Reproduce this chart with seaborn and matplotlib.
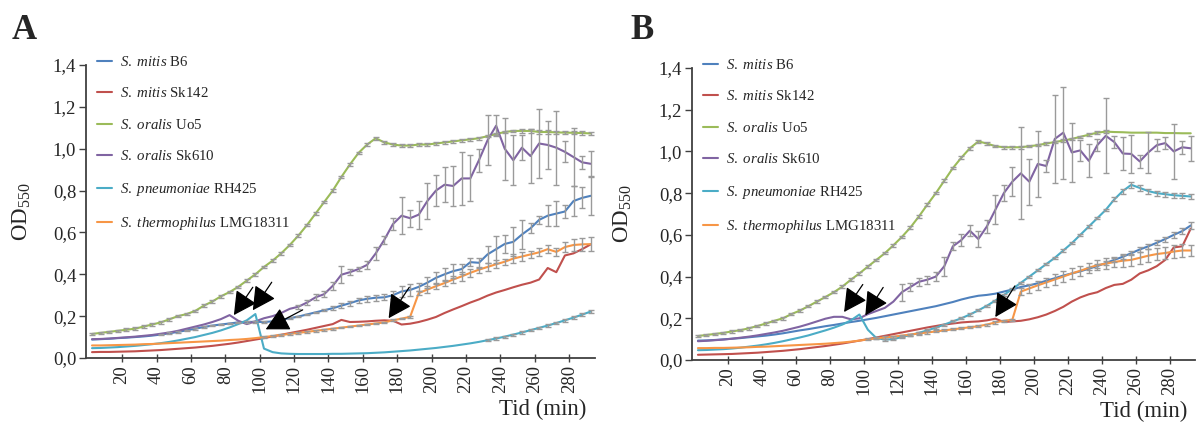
import numpy as np
import pandas as pd
import matplotlib
matplotlib.use("Agg")
import matplotlib.pyplot as plt
import seaborn as sns
from matplotlib.ticker import FuncFormatter

nan = np.nan

TIME = [2.5, 7.5, 12.5, 17.5, 22.5, 27.5, 32.5, 37.5, 42.5, 47.5,
        52.5, 57.5, 62.5, 67.5, 72.5, 77.5, 82.5, 87.5, 92.5, 97.5,
        102.5, 107.5, 112.5, 117.5, 122.5, 127.5, 132.5, 137.5, 142.5, 147.5,
        152.5, 157.5, 162.5, 167.5, 172.5, 177.5, 182.5, 187.5, 192.5, 197.5,
        202.5, 207.5, 212.5, 217.5, 222.5, 227.5, 232.5, 237.5, 242.5, 247.5,
        252.5, 257.5, 262.5, 267.5, 272.5, 277.5, 282.5, 287.5, 292.5]

STRAINS = [r"$\mathit{S.\ mitis}$ B6",
           r"$\mathit{S.\ mitis}$ Sk142",
           r"$\mathit{S.\ oralis}$ Uo5",
           r"$\mathit{S.\ oralis}$ Sk610",
           r"$\mathit{S.\ pneumoniae}$ RH425",
           r"$\mathit{S.\ thermophilus}$ LMG18311"]
COLORS = ["#4F81BD", "#C0504D", "#9BBB59", "#8064A2", "#4BACC6", "#F79646"]

XTICKS = [20, 40, 60, 80, 100, 120, 140, 160, 180, 200, 220, 240, 260, 280]
YTICKS = [0.0, 0.2, 0.4, 0.6, 0.8, 1.0, 1.2, 1.4]

# ---------------- Panel A ----------------
A_B6 = [0.088, 0.090, 0.092, 0.095, 0.097, 0.100, 0.103, 0.107, 0.112, 0.118,
        0.125, 0.132, 0.140, 0.148, 0.155, 0.160, 0.165, 0.170, 0.172, 0.173,
        0.172, 0.175, 0.182, 0.190, 0.198, 0.208, 0.218, 0.228, 0.238, 0.250,
        0.262, 0.275, 0.283, 0.288, 0.290, 0.300, 0.318, 0.325, 0.340, 0.360,
        0.383, 0.400, 0.415, 0.425, 0.458, 0.455, 0.495, 0.520, 0.545, 0.555,
        0.590, 0.620, 0.660, 0.680, 0.690, 0.700, 0.750, 0.765, 0.775]
A_SK142 = [0.028, 0.029, 0.029, 0.030, 0.031, 0.032, 0.034, 0.036, 0.038, 0.041,
           0.044, 0.047, 0.050, 0.054, 0.058, 0.063, 0.068, 0.074, 0.081, 0.088,
           0.095, 0.103, 0.111, 0.119, 0.127, 0.135, 0.144, 0.153, 0.162, 0.182,
           0.172, 0.173, 0.175, 0.178, 0.180, 0.178, 0.160, 0.164, 0.172, 0.183,
           0.196, 0.215, 0.232, 0.248, 0.265, 0.280, 0.298, 0.313, 0.325, 0.338,
           0.350, 0.360, 0.375, 0.430, 0.410, 0.490, 0.500, 0.520, 0.543]
A_UO5 = [0.115, 0.120, 0.125, 0.130, 0.135, 0.140, 0.150, 0.160, 0.170, 0.185,
         0.200, 0.210, 0.225, 0.250, 0.270, 0.295, 0.315, 0.340, 0.370, 0.400,
         0.435, 0.465, 0.500, 0.540, 0.585, 0.635, 0.690, 0.745, 0.800, 0.865,
         0.925, 0.980, 1.020, 1.050, 1.030, 1.020, 1.015, 1.015, 1.020, 1.020,
         1.025, 1.030, 1.035, 1.040, 1.045, 1.050, 1.060, 1.070, 1.080, 1.085,
         1.085, 1.085, 1.080, 1.080, 1.078, 1.077, 1.076, 1.075, 1.073]
A_SK610 = [0.090, 0.091, 0.093, 0.096, 0.099, 0.102, 0.106, 0.110, 0.116, 0.122,
           0.130, 0.140, 0.150, 0.160, 0.172, 0.186, 0.205, 0.178, 0.162, 0.175,
           0.190, 0.200, 0.215, 0.235, 0.245, 0.265, 0.290, 0.305, 0.345, 0.398,
           0.410, 0.425, 0.445, 0.500, 0.565, 0.640, 0.680, 0.668, 0.685, 0.750,
           0.800, 0.828, 0.822, 0.858, 0.858, 0.945, 1.040, 1.110, 1.000, 0.945,
           1.005, 0.965, 1.025, 1.018, 1.005, 0.985, 0.960, 0.935, 0.928]
A_RH425 = [0.047, 0.048, 0.050, 0.052, 0.055, 0.058, 0.062, 0.066, 0.071, 0.077,
           0.084, 0.092, 0.100, 0.110, 0.120, 0.132, 0.146, 0.162, 0.180, 0.210,
           0.045, 0.028, 0.022, 0.020, 0.019, 0.019, 0.019, 0.019, 0.020, 0.020,
           0.021, 0.022, 0.023, 0.025, 0.027, 0.030, 0.033, 0.036, 0.040, 0.044,
           0.048, 0.053, 0.058, 0.064, 0.070, 0.077, 0.085, 0.093, 0.102, 0.112,
           0.122, 0.133, 0.144, 0.155, 0.167, 0.180, 0.193, 0.207, 0.222]
A_LMG = [0.060, 0.060, 0.061, 0.062, 0.063, 0.064, 0.066, 0.067, 0.069, 0.071,
         0.073, 0.075, 0.077, 0.079, 0.081, 0.083, 0.086, 0.088, 0.091, 0.095,
         0.100, 0.105, 0.110, 0.115, 0.120, 0.125, 0.130, 0.135, 0.140, 0.145,
         0.150, 0.155, 0.160, 0.165, 0.170, 0.180, 0.188, 0.197, 0.310, 0.327,
         0.343, 0.358, 0.375, 0.390, 0.407, 0.422, 0.435, 0.448, 0.460, 0.475,
         0.485, 0.495, 0.505, 0.520, 0.507, 0.530, 0.540, 0.543, 0.544]

A_B6_ERR = [nan, nan, nan, nan, nan, nan, nan, nan, 0.004, 0.004,
            0.004, 0.004, 0.004, 0.004, 0.004, 0.004, 0.004, 0.004, 0.004, 0.004,
            0.004, 0.004, 0.004, 0.004, 0.004, 0.004, 0.004, 0.004, 0.010, 0.012,
            0.012, 0.010, 0.015, 0.015, 0.015, 0.020, 0.025, 0.030, 0.020, 0.025,
            0.030, 0.030, 0.035, 0.025, 0.020, 0.025, 0.040, 0.065, 0.045, 0.070,
            0.070, 0.025, 0.020, 0.050, 0.060, 0.030, 0.070, 0.050, 0.090]
A_SK142_ERR = None
A_UO5_ERR = [0.006, 0.006, 0.006, 0.006, 0.006, 0.006, 0.006, 0.006, 0.006, 0.006,
             0.006, 0.006, 0.006, 0.006, 0.006, 0.006, 0.006, 0.006, 0.006, 0.006,
             0.006, 0.006, 0.006, 0.006, 0.006, 0.006, 0.006, 0.006, 0.006, 0.006,
             0.006, 0.006, 0.006, 0.008, 0.006, 0.006, 0.006, 0.006, 0.006, 0.006,
             0.006, 0.006, 0.006, 0.006, 0.006, 0.006, 0.006, 0.006, 0.006, 0.006,
             0.008, 0.008, 0.008, 0.008, 0.008, 0.008, 0.008, 0.008, 0.008]
A_SK610_ERR = [nan, nan, nan, nan, nan, nan, nan, nan, nan, nan,
               nan, nan, nan, nan, nan, nan, nan, nan, nan, nan,
               nan, nan, nan, nan, 0.010, 0.010, 0.015, 0.015, 0.020, 0.040,
               0.015, 0.010, 0.020, 0.030, 0.020, 0.030, 0.087, 0.040, 0.067, 0.087,
               0.075, 0.083, 0.095, 0.127, 0.110, 0.055, 0.119, 0.050, 0.148, 0.119,
               0.060, 0.130, 0.163, 0.115, 0.176, 0.050, 0.139, 0.030, 0.060]
A_RH425_ERR = [nan, nan, nan, nan, nan, nan, nan, nan, nan, nan,
               nan, nan, nan, nan, nan, nan, nan, nan, nan, nan,
               nan, nan, nan, nan, nan, nan, nan, nan, nan, nan,
               nan, nan, nan, nan, nan, nan, nan, nan, nan, nan,
               nan, nan, nan, nan, nan, nan, 0.005, 0.005, 0.005, 0.005,
               0.005, 0.005, 0.005, 0.006, 0.006, 0.006, 0.007, 0.007, 0.008]
A_LMG_ERR = [nan, nan, nan, nan, nan, nan, nan, nan, nan, nan,
             nan, nan, nan, nan, nan, nan, nan, nan, nan, nan,
             0.004, 0.004, 0.004, 0.004, 0.004, 0.004, 0.004, 0.004, 0.004, 0.004,
             0.004, 0.004, 0.004, 0.004, 0.004, 0.004, 0.004, 0.004, 0.010, 0.015,
             0.015, 0.015, 0.015, 0.020, 0.020, 0.015, 0.020, 0.020, 0.015, 0.020,
             0.020, 0.015, 0.020, 0.020, 0.020, 0.025, 0.030, 0.030, 0.035]

# ---------------- Panel B ----------------
B_B6 = [0.093, 0.094, 0.096, 0.099, 0.102, 0.105, 0.109, 0.113, 0.117, 0.122,
        0.128, 0.135, 0.142, 0.148, 0.155, 0.162, 0.168, 0.175, 0.182, 0.188,
        0.195, 0.202, 0.210, 0.218, 0.226, 0.234, 0.242, 0.250, 0.258, 0.268,
        0.278, 0.290, 0.300, 0.308, 0.312, 0.318, 0.328, 0.338, 0.350, 0.358,
        0.368, 0.380, 0.392, 0.405, 0.415, 0.425, 0.438, 0.450, 0.465, 0.480,
        0.495, 0.512, 0.530, 0.545, 0.562, 0.580, 0.600, 0.618, 0.645]
B_SK142 = [0.025, 0.026, 0.027, 0.028, 0.029, 0.031, 0.033, 0.035, 0.038, 0.041,
           0.044, 0.048, 0.052, 0.057, 0.062, 0.067, 0.073, 0.079, 0.086, 0.093,
           0.100, 0.108, 0.116, 0.124, 0.132, 0.140, 0.148, 0.156, 0.163, 0.170,
           0.175, 0.180, 0.183, 0.185, 0.190, 0.198, 0.182, 0.185, 0.188, 0.195,
           0.205, 0.218, 0.235, 0.255, 0.280, 0.300, 0.315, 0.325, 0.345, 0.360,
           0.365, 0.385, 0.415, 0.430, 0.450, 0.480, 0.540, 0.545, 0.630]
B_UO5 = [0.115, 0.120, 0.125, 0.130, 0.137, 0.143, 0.152, 0.163, 0.175, 0.188,
         0.200, 0.220, 0.237, 0.258, 0.280, 0.302, 0.325, 0.352, 0.385, 0.415,
         0.448, 0.480, 0.512, 0.550, 0.590, 0.635, 0.688, 0.745, 0.800, 0.860,
         0.920, 0.970, 1.015, 1.048, 1.038, 1.025, 1.020, 1.020, 1.020, 1.025,
         1.030, 1.038, 1.045, 1.052, 1.060, 1.070, 1.080, 1.090, 1.095, 1.093,
         1.092, 1.090, 1.090, 1.090, 1.090, 1.088, 1.088, 1.087, 1.087]
B_SK610 = [0.090, 0.092, 0.095, 0.098, 0.102, 0.107, 0.112, 0.118, 0.125, 0.132,
           0.140, 0.150, 0.160, 0.172, 0.185, 0.198, 0.207, 0.207, 0.195, 0.200,
           0.220, 0.235, 0.250, 0.280, 0.325, 0.350, 0.375, 0.385, 0.400, 0.450,
           0.545, 0.575, 0.620, 0.580, 0.640, 0.720, 0.800, 0.855, 0.895, 0.855,
           0.940, 0.930, 1.060, 1.090, 0.995, 1.005, 0.955, 1.030, 1.075, 1.045,
           0.990, 0.988, 0.952, 0.995, 1.030, 1.040, 1.000, 1.020, 1.015]
B_RH425 = [0.047, 0.048, 0.050, 0.052, 0.055, 0.059, 0.064, 0.069, 0.075, 0.082,
           0.090, 0.099, 0.108, 0.118, 0.130, 0.142, 0.155, 0.170, 0.190, 0.218,
           0.145, 0.105, 0.098, 0.100, 0.110, 0.120, 0.130, 0.142, 0.155, 0.170,
           0.185, 0.200, 0.218, 0.238, 0.260, 0.285, 0.312, 0.340, 0.370, 0.400,
           0.430, 0.460, 0.490, 0.525, 0.560, 0.600, 0.640, 0.680, 0.720, 0.770,
           0.810, 0.840, 0.825, 0.810, 0.800, 0.795, 0.790, 0.787, 0.784]
B_LMG = [0.057, 0.057, 0.058, 0.058, 0.059, 0.060, 0.061, 0.063, 0.064, 0.066,
         0.068, 0.070, 0.072, 0.074, 0.076, 0.078, 0.081, 0.084, 0.088, 0.093,
         0.099, 0.104, 0.108, 0.112, 0.117, 0.122, 0.127, 0.132, 0.137, 0.142,
         0.147, 0.152, 0.157, 0.162, 0.170, 0.180, 0.188, 0.193, 0.328, 0.343,
         0.358, 0.372, 0.386, 0.400, 0.415, 0.428, 0.442, 0.455, 0.462, 0.470,
         0.476, 0.480, 0.490, 0.500, 0.508, 0.513, 0.520, 0.525, 0.525]

B_B6_ERR = [nan, nan, nan, nan, nan, nan, nan, nan, nan, nan,
            nan, nan, nan, nan, nan, nan, nan, nan, nan, nan,
            nan, nan, nan, nan, nan, nan, nan, nan, nan, nan,
            nan, nan, nan, nan, nan, nan, nan, nan, nan, nan,
            nan, nan, nan, nan, nan, nan, 0.006, 0.008, 0.008, 0.010,
            0.010, 0.010, 0.012, 0.012, 0.012, 0.012, 0.015, 0.015, 0.015]
B_SK142_ERR = None
B_UO5_ERR = [0.006, 0.006, 0.006, 0.006, 0.006, 0.006, 0.006, 0.006, 0.006, 0.006,
             0.006, 0.006, 0.006, 0.006, 0.006, 0.006, 0.006, 0.006, 0.006, 0.006,
             0.006, 0.006, 0.006, 0.006, 0.006, 0.006, 0.006, 0.006, 0.006, 0.006,
             0.006, 0.006, 0.006, 0.006, 0.006, 0.006, 0.006, 0.006, 0.006, 0.006,
             0.006, 0.006, 0.006, 0.006, 0.006, 0.006, 0.006, 0.006, 0.006, nan,
             nan, nan, nan, nan, nan, nan, nan, nan, nan]
B_SK610_ERR = [nan, nan, nan, nan, nan, nan, nan, nan, nan, nan,
               nan, nan, nan, nan, nan, nan, nan, nan, nan, nan,
               nan, nan, nan, nan, 0.040, 0.020, 0.020, 0.020, 0.020, 0.045,
               0.020, 0.030, 0.025, 0.040, 0.030, 0.070, 0.040, 0.070, 0.220, 0.110,
               0.160, 0.030, 0.210, 0.220, 0.140, 0.050, 0.080, 0.030, 0.180, 0.030,
               0.080, 0.090, 0.030, 0.100, 0.030, 0.030, 0.130, 0.030, 0.060]
B_RH425_ERR = [nan, nan, nan, nan, nan, nan, nan, nan, nan, nan,
               nan, nan, nan, nan, nan, nan, nan, nan, nan, nan,
               nan, 0.005, 0.005, 0.005, 0.005, 0.005, 0.005, 0.005, 0.005, 0.005,
               0.005, 0.005, 0.005, 0.005, 0.005, 0.005, 0.005, 0.005, 0.005, 0.005,
               0.005, 0.005, 0.005, 0.005, 0.005, 0.005, 0.005, 0.005, 0.005, 0.010,
               0.012, 0.015, 0.015, 0.012, 0.012, 0.012, 0.012, 0.012, 0.012]
B_LMG_ERR = [nan, nan, nan, nan, nan, nan, nan, nan, nan, nan,
             nan, nan, nan, nan, nan, nan, nan, nan, nan, nan,
             0.005, 0.005, 0.005, 0.005, 0.005, 0.005, 0.005, 0.005, 0.005, 0.005,
             0.005, 0.005, 0.005, 0.005, 0.005, 0.005, 0.005, 0.005, 0.015, 0.020,
             0.020, 0.020, 0.025, 0.025, 0.025, 0.025, 0.025, 0.025, 0.025, 0.025,
             0.030, 0.030, 0.030, 0.030, 0.030, 0.030, 0.030, 0.030, 0.025]

# arrows: (tip_t, tip_od, tail_t, tail_od)
A_ARROWS = [(85.0, 0.205, 96.0, 0.338),
            (96.0, 0.228, 107.0, 0.362),
            (103.5, 0.137, 125.0, 0.230),
            (175.0, 0.190, 187.0, 0.338)]
B_ARROWS = [(88.5, 0.230, 99.5, 0.362),
            (101.0, 0.214, 111.5, 0.348),
            (177.5, 0.206, 189.0, 0.355)]

# ---------------- style ----------------
sns.set_theme(style="ticks")
plt.rcParams["font.family"] = ["Liberation Serif", "DejaVu Serif"]
plt.rcParams["mathtext.fontset"] = "custom"
plt.rcParams["mathtext.rm"] = "Liberation Serif"
plt.rcParams["mathtext.it"] = "Liberation Serif:italic"
plt.rcParams["mathtext.bf"] = "Liberation Serif:bold"

AXCOL = "#404040"

fig = plt.figure(figsize=(11.96, 4.23), dpi=100)
axA = fig.add_axes([86 / 1196, 1 - 358 / 423, (595 - 86) / 1196, (358 - 65) / 423])
axB = fig.add_axes([692 / 1196, 1 - 360 / 423, (1195 - 692) / 1196, (360 - 68) / 423])


def draw(ax, series, errors, arrows, ylab_x):
    rows = []
    for name, vals in zip(STRAINS, series):
        for t, v in zip(TIME, vals):
            rows.append((t, v, name))
    df = pd.DataFrame(rows, columns=["Tid", "OD", "Stamme"])

    tarr = np.array(TIME)
    for vals, err in zip(series, errors):
        if err is None:
            continue
        e = np.array(err, dtype=float)
        m = ~np.isnan(e)
        ax.errorbar(tarr[m], np.array(vals)[m], yerr=e[m], fmt="none",
                    ecolor="#9a9a9a", elinewidth=1.0, capsize=2.2,
                    capthick=1.0, zorder=3)

    sns.lineplot(data=df, x="Tid", y="OD", hue="Stamme", hue_order=STRAINS,
                 palette=COLORS, linewidth=1.5, ax=ax, zorder=2)

    leg = ax.get_legend()
    handles = leg.legend_handles
    labels = [t.get_text() for t in leg.get_texts()]
    ax.legend(handles, labels, loc="upper left", bbox_to_anchor=(0.022, 1.035),
              frameon=False, fontsize=10.7, handlelength=1.0,
              handletextpad=0.55, labelspacing=1.18, borderpad=0,
              borderaxespad=0)

    for tip_t, tip_v, tail_t, tail_v in arrows:
        ax.annotate("", xy=(tip_t, tip_v), xytext=(tail_t, tail_v),
                    arrowprops=dict(arrowstyle="-|>,head_length=0.72,head_width=0.38",
                                    color="black", lw=0.9, mutation_scale=20,
                                    shrinkA=0, shrinkB=0), zorder=5)

    ax.set_xlim(-1, 295)
    ax.set_ylim(0, 1.4)
    ax.set_xticks(XTICKS)
    ax.set_yticks(YTICKS)
    ax.yaxis.set_major_formatter(FuncFormatter(lambda v, p: f"{v:.1f}".replace(".", ",")))
    ax.tick_params(axis="x", labelrotation=90, labelsize=13.5, direction="inout",
                   length=6, width=1.0, color=AXCOL, pad=2)
    ax.tick_params(axis="y", labelsize=13.5, direction="out", length=5,
                   width=1.0, color=AXCOL, pad=2)
    sns.despine(ax=ax)
    for s in ["left", "bottom"]:
        ax.spines[s].set_color(AXCOL)
        ax.spines[s].set_linewidth(1.3)
    ax.set_xlabel("Tid (min)", fontsize=16.5, loc="right")
    ax.xaxis.set_label_coords(0.984, -0.14)
    ax.set_ylabel(r"OD$_{\mathrm{550}}$", fontsize=16.5)
    ax.yaxis.set_label_coords(ylab_x, 0.5)


draw(axA,
     [A_B6, A_SK142, A_UO5, A_SK610, A_RH425, A_LMG],
     [A_B6_ERR, A_SK142_ERR, A_UO5_ERR, A_SK610_ERR, A_RH425_ERR, A_LMG_ERR],
     A_ARROWS, -0.104)
draw(axB,
     [B_B6, B_SK142, B_UO5, B_SK610, B_RH425, B_LMG],
     [B_B6_ERR, B_SK142_ERR, B_UO5_ERR, B_SK610_ERR, B_RH425_ERR, B_LMG_ERR],
     B_ARROWS, -0.115)

fig.text(12 / 1196, 1 - 14 / 423, "A", fontsize=25, fontweight="bold",
         ha="left", va="top")
fig.text(630 / 1196, 1 - 14 / 423, "B", fontsize=25, fontweight="bold",
         ha="left", va="top")

fig.savefig("out.png", dpi=100)
